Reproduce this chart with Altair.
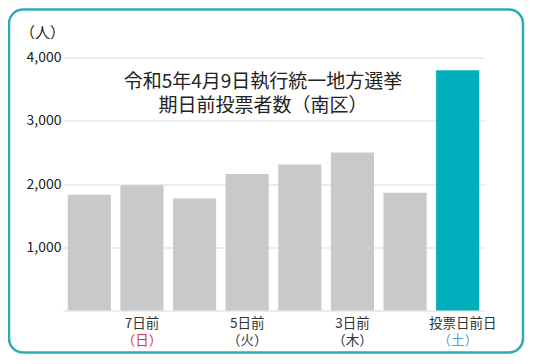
import altair as alt
import pandas as pd

# ---- data ----
days = ["8日前", "7日前", "6日前", "5日前", "4日前", "3日前", "2日前", "投票日前日"]
voters = [1830, 1980, 1770, 2160, 2310, 2500, 1860, 3800]
label_line1 = ["", "7日前", "", "5日前", "", "3日前", "", "投票日前日"]
label_line2 = ["", "（日）", "", "（火）", "", "（木）", "", "（土）"]
label2_colors = ["#333333", "#e0353a", "#333333", "#333333", "#333333", "#333333", "#333333", "#5b9bd5"]
bar_colors = ["#c8c9c9"] * 7 + ["#00afbb"]
title_text = "令和5年4月9日執行統一地方選挙\n期日前投票者数（南区）"
y_ticks = [0, 1000, 2000, 3000, 4000]

FONT = "Noto Sans CJK JP"
W, H = 421, 253

df = pd.DataFrame({
    "day": days,
    "voters": voters,
    "l1": label_line1,
    "l2": label_line2,
    "c2": label2_colors,
    "bc": bar_colors,
})

x_enc = alt.X("day:N", sort=days, axis=None,
              scale=alt.Scale(paddingInner=0.18, paddingOuter=0.09))

base = alt.Chart(df)

bars = base.mark_bar().encode(
    x=x_enc,
    y=alt.Y("voters:Q",
            scale=alt.Scale(domain=[0, 4000], nice=False),
            axis=alt.Axis(values=y_ticks, grid=True, gridColor="#d9d9d9", gridWidth=1,
                          domain=False, ticks=False, labelPadding=2,
                          labelFont=FONT, labelFontSize=14, labelColor="#222222",
                          labelExpr="datum.value == 0 ? '' : format(datum.value, ',')",
                          title="（人）", titleAngle=0, titleFont=FONT, titleFontSize=15,
                          titleFontWeight="normal", titleColor="#222222",
                          titleAlign="center", titleBaseline="middle",
                          titleX=-21, titleY=-25)),
    color=alt.Color("bc:N", scale=None, legend=None),
)

lab1 = base.transform_filter("datum.l1 != '' && datum.day != '投票日前日'").mark_text(
    font=FONT, fontSize=13.5, baseline="middle", color="#333333").encode(
    x=x_enc, y=alt.value(266), text="l1:N")

lab1_last = base.transform_filter("datum.day == '投票日前日'").mark_text(
    font=FONT, fontSize=13.5, baseline="middle", color="#333333", dx=5).encode(
    x=x_enc, y=alt.value(266), text="l1:N")

lab2 = base.transform_filter("datum.l2 != ''").mark_text(
    font=FONT, fontSize=13.5, baseline="middle").encode(
    x=x_enc, y=alt.value(283.5), text="l2:N",
    color=alt.Color("c2:N", scale=None, legend=None))

title = alt.Chart(alt.Data(values=[{"t": title_text}])).mark_text(
    font=FONT, fontSize=19, baseline="middle", align="center",
    lineBreak="\n", lineHeight=23.5, color="#222222"
).encode(x=alt.value(200), y=alt.value(24.5), text="t:N")

border = alt.Chart(alt.Data(values=[{"b": 1}])).mark_rect(
    fill=None, fillOpacity=0, stroke="#2eabb2", strokeWidth=2.5, cornerRadius=14
).encode(x=alt.value(-54), x2=alt.value(460), y=alt.value(-48), y2=alt.value(295))

chart = alt.layer(border, bars, lab1, lab1_last, lab2, title).properties(
    width=W, height=H,
    autosize=alt.AutoSizeParams(type="none"),
    padding={"left": 55, "top": 49.5, "right": 41, "bottom": 45},
    background="white",
).configure_view(stroke=None)

chart.save("out.html", embed_options={"renderer": "svg", "actions": False})
